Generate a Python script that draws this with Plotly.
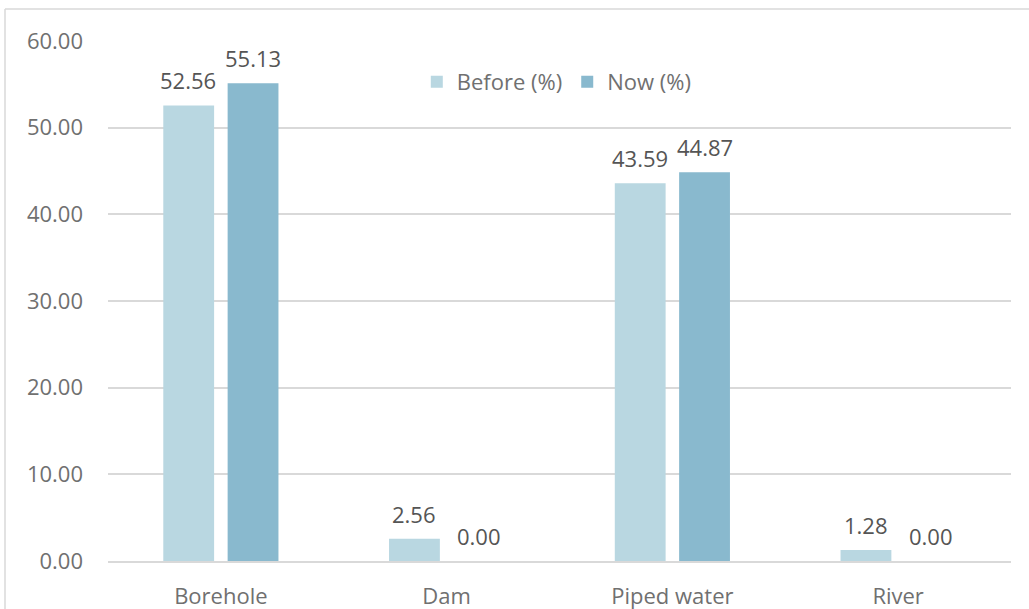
import plotly.graph_objects as go

# Water source shares, before vs now
categories = ["Borehole", "Dam", "Piped water", "River"]
before_pct = [52.56, 2.56, 43.59, 1.28]
now_pct = [55.13, 0.00, 44.87, 0.00]
y_ticks = [0, 10, 20, 30, 40, 50, 60]

FONT = "Open Sans, Noto Sans, sans-serif"
AXIS_TEXT = "#707070"
LABEL_TEXT = "#555555"
GRID = "#d9d9d9"
C_BEFORE = "#b9d7e1"
C_NOW = "#89b9ce"

W, H = 1029, 609
ML, MR, MT, MB = 108, 18, 41, 48
plot_w = W - ML - MR
plot_h = H - MT - MB

fig = go.Figure()
fig.add_trace(go.Bar(name="Before (%)", x=categories, y=before_pct,
                     marker=dict(color=C_BEFORE, line=dict(width=0))))
fig.add_trace(go.Bar(name="Now (%)", x=categories, y=now_pct,
                     marker=dict(color=C_NOW, line=dict(width=0))))

# value labels above each bar, offset to the bar's slot within the group
slot_offset = 32.4
for series, sign in ((before_pct, -1), (now_pct, 1)):
    for cat, val in zip(categories, series):
        fig.add_annotation(x=cat, y=val, text=f"{val:.2f}", showarrow=False,
                           xshift=sign * slot_offset, yshift=25,
                           yanchor="middle", xanchor="center",
                           font=dict(family=FONT, size=22, color=LABEL_TEXT))

# chart frame (left and top edges)
fx0 = (5 - ML) / plot_w
fy1 = 1 + (MT - 9) / plot_h
fig.add_shape(type="line", xref="paper", yref="paper",
              x0=fx0, x1=fx0, y0=-0.3, y1=fy1,
              line=dict(color=GRID, width=1.5))
fig.add_shape(type="line", xref="paper", yref="paper",
              x0=fx0, x1=1.05, y0=fy1, y1=fy1,
              line=dict(color=GRID, width=1.5))

fig.update_layout(
    width=W, height=H,
    margin=dict(l=ML, r=MR, t=MT, b=MB, pad=0, autoexpand=False),
    paper_bgcolor="white", plot_bgcolor="white",
    barmode="group", bargap=0.43, bargroupgap=0.21,
    font=dict(family=FONT, size=22, color=AXIS_TEXT),
    showlegend=True,
    legend=dict(orientation="h", x=0.497, xanchor="center",
                y=1 - (82 - MT) / plot_h, yanchor="middle",
                font=dict(family=FONT, size=22, color=AXIS_TEXT),
                bgcolor="rgba(0,0,0,0)", itemwidth=30,
                traceorder="normal"),
    xaxis=dict(showgrid=False, showline=True, linecolor=GRID, linewidth=1.5,
               ticks="", ticklabelstandoff=15, automargin=False,
               tickfont=dict(family=FONT, size=22, color=AXIS_TEXT)),
    yaxis=dict(range=[0, 60], tickvals=y_ticks,
               ticktext=[f"{v:.2f}" for v in y_ticks],
               showgrid=True, gridcolor=GRID, gridwidth=1.5,
               zeroline=False, showline=False, ticks="",
               ticklabelstandoff=24, automargin=False,
               tickfont=dict(family=FONT, size=22, color=AXIS_TEXT)),
)

fig.write_html("out.html")
